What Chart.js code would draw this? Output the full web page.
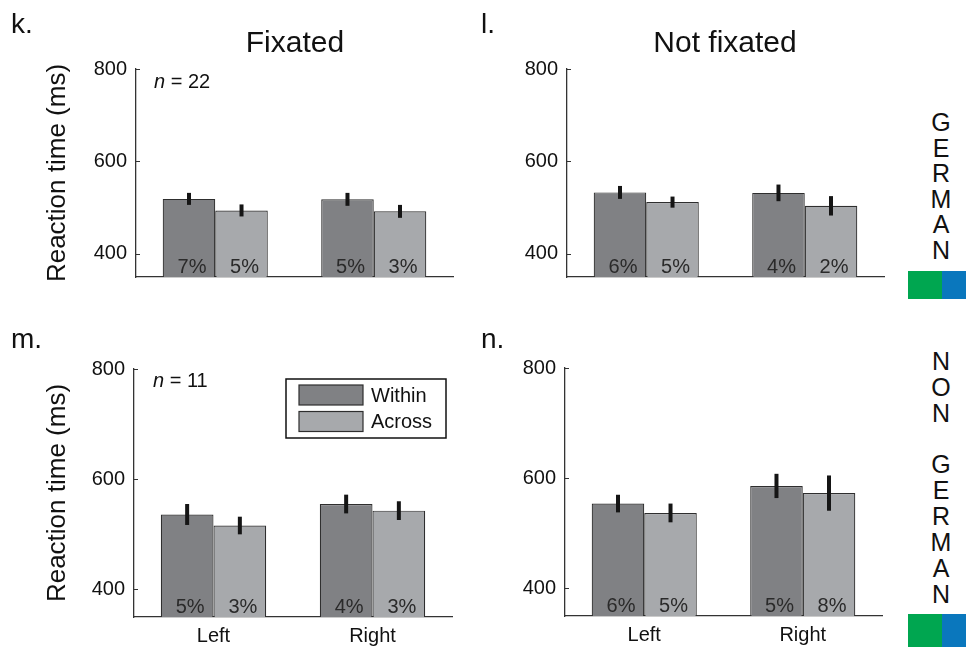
<!DOCTYPE html>
<html>
<head>
<meta charset="utf-8">
<script src="https://cdn.jsdelivr.net/npm/chart.js@4.4.1/dist/chart.umd.min.js"></script>
<style>
body { margin: 0; background: #fff; }
#wrap { position: relative; width: 966px; height: 647px; overflow: hidden; font-family: "Liberation Sans", Arial, sans-serif; color: #111; }
canvas { position: absolute; }
.t { position: absolute; white-space: nowrap; line-height: 1; }
.side { position: absolute; width: 40px; text-align: center; font-size: 25px; }
.sq { position: absolute; }
</style>
</head>
<body>
<div id="wrap">
  <canvas id="cK" width="480" height="300" style="left:0;top:0"></canvas>
  <canvas id="cL" width="420" height="300" style="left:480px;top:0"></canvas>
  <canvas id="cM" width="480" height="327" style="left:0;top:320px"></canvas>
  <canvas id="cN" width="420" height="327" style="left:480px;top:320px"></canvas>

  <div class="t" style="left:11px;top:10px;font-size:28px">k.</div>
  <div class="t" style="left:481px;top:10px;font-size:28px">l.</div>
  <div class="t" style="left:11px;top:325px;font-size:28px">m.</div>
  <div class="t" style="left:481px;top:325px;font-size:28px">n.</div>

  <div class="t" style="left:195px;width:200px;text-align:center;top:27px;font-size:30px">Fixated</div>
  <div class="t" style="left:625px;width:200px;text-align:center;top:27px;font-size:30px">Not fixated</div>

  <div class="t" style="left:154px;top:71px;font-size:20px"><i>n</i> = 22</div>
  <div class="t" style="left:153px;top:370px;font-size:20px"><i>n</i> = 11</div>

  <div class="side" style="left:921px;top:110px;line-height:25.6px">G<br>E<br>R<br>M<br>A<br>N</div>
  <div class="side" style="left:921px;top:349px;line-height:25.84px">N<br>O<br>N<br>&nbsp;<br>G<br>E<br>R<br>M<br>A<br>N</div>

  <div class="sq" style="left:908px;top:271px;width:34px;height:28px;background:#00a650"></div>
  <div class="sq" style="left:942px;top:271px;width:24px;height:28px;background:#0a77bd"></div>
  <div class="sq" style="left:908px;top:614px;width:34px;height:33px;background:#00a650"></div>
  <div class="sq" style="left:942px;top:614px;width:24px;height:33px;background:#0a77bd"></div>
</div>

<script>
var categories = ['Left', 'Right'];
var seriesNames = ['Within', 'Across'];
var yTicks = [400, 600, 800];

// k. German, fixated
var kWithin = [519, 518];
var kAcross = [494, 492];
var kWithinErr = [13, 14];
var kAcrossErr = [13, 14];
var kWithinPct = ['7%', '5%'];
var kAcrossPct = ['5%', '3%'];

// l. German, not fixated
var lWithin = [533, 532];
var lAcross = [512, 504];
var lWithinErr = [14, 18];
var lAcrossErr = [12, 21];
var lWithinPct = ['6%', '4%'];
var lAcrossPct = ['5%', '2%'];

// m. non German, fixated
var mWithin = [536, 555];
var mAcross = [516, 543];
var mWithinErr = [19, 17];
var mAcrossErr = [16, 17];
var mWithinPct = ['5%', '4%'];
var mAcrossPct = ['3%', '3%'];

// n. non German, not fixated
var nWithin = [554, 586];
var nAcross = [537, 573];
var nWithinErr = [16, 22];
var nAcrossErr = [17, 32];
var nWithinPct = ['6%', '5%'];
var nAcrossPct = ['5%', '8%'];

var withinColor = '#808184';
var acrossColor = '#a7a9ac';
var edgeColor = '#2e2e2e';
var fontFam = '"Liberation Sans", Arial, sans-serif';

// error bars, percentages, inner tick marks and the legend
var extras = {
    id: 'extras',
    afterDatasetsDraw: function (chart) {
        var ctx = chart.ctx;
        var y = chart.scales.y;
        var a = chart.chartArea;
        ctx.save();
        chart.data.datasets.forEach(function (ds, i) {
            var meta = chart.getDatasetMeta(i);
            meta.data.forEach(function (bar, j) {
                var v = ds.data[j];
                var e = ds.errors[j];
                ctx.strokeStyle = '#151515';
                ctx.lineWidth = 4;
                ctx.lineCap = 'butt';
                ctx.beginPath();
                ctx.moveTo(bar.x, y.getPixelForValue(v + e));
                ctx.lineTo(bar.x, y.getPixelForValue(v - e));
                ctx.stroke();

                ctx.fillStyle = '#2a2a2a';
                ctx.font = '20px ' + fontFam;
                ctx.textAlign = 'center';
                ctx.textBaseline = 'alphabetic';
                ctx.fillText(ds.pct[j], bar.x + 3, a.bottom - 4);
            });
        });
        // small inward ticks
        ctx.strokeStyle = '#333';
        ctx.lineWidth = 1;
        yTicks.forEach(function (t) {
            var py = Math.round(y.getPixelForValue(t)) + 0.5;
            ctx.beginPath();
            ctx.moveTo(a.left, py);
            ctx.lineTo(a.left + 4, py);
            ctx.stroke();
        });
        ctx.restore();
    },
    afterDraw: function (chart) {
        if (!chart.options.plugins.extras || !chart.options.plugins.extras.legend) return;
        var ctx = chart.ctx;
        var a = chart.chartArea;
        var bx = a.left + 152, by = a.top + 10;
        ctx.save();
        ctx.strokeStyle = '#111';
        ctx.lineWidth = 1.5;
        ctx.fillStyle = '#fff';
        ctx.fillRect(bx, by, 160, 59);
        ctx.strokeRect(bx, by, 160, 59);
        chart.data.datasets.forEach(function (ds, i) {
            var sy = by + 6 + i * 26.5;
            ctx.fillStyle = ds.backgroundColor;
            ctx.fillRect(bx + 13, sy, 64, 20);
            ctx.strokeStyle = edgeColor;
            ctx.lineWidth = 1.2;
            ctx.strokeRect(bx + 13, sy, 64, 20);
            ctx.fillStyle = '#111';
            ctx.font = '20px ' + fontFam;
            ctx.textAlign = 'left';
            ctx.textBaseline = 'middle';
            ctx.fillText(ds.label, bx + 85, sy + 11);
        });
        ctx.restore();
    }
};

function makePanel(id, g, within, across, wErr, aErr, wPct, aPct) {
    return new Chart(document.getElementById(id), {
        type: 'bar',
        data: {
            labels: categories,
            datasets: [
                { label: seriesNames[0], data: within, errors: wErr, pct: wPct,
                  backgroundColor: withinColor, borderColor: edgeColor, borderWidth: 1.2 },
                { label: seriesNames[1], data: across, errors: aErr, pct: aPct,
                  backgroundColor: acrossColor, borderColor: edgeColor, borderWidth: 1.2 }
            ]
        },
        options: {
            responsive: false,
            animation: false,
            layout: { padding: { left: 0, top: g.top, right: g.right, bottom: g.bottom } },
            datasets: { bar: { categoryPercentage: 0.663, barPercentage: 1 } },
            plugins: {
                legend: { display: false },
                tooltip: { enabled: false },
                extras: { legend: g.legend }
            },
            scales: {
                x: {
                    grid: { display: false, drawTicks: false },
                    border: { color: '#333', width: 1.3 },
                    ticks: { display: g.xLabels, color: '#111', padding: 7, font: { size: 20, family: fontFam } },
                    afterFit: function (s) { s.height = g.xH; }
                },
                y: {
                    min: 350,
                    max: 800,
                    afterBuildTicks: function (s) { s.ticks = yTicks.map(function (v) { return { value: v }; }); },
                    grid: { display: false, drawTicks: false },
                    border: { color: '#333', width: 1.3 },
                    ticks: { color: '#111', padding: 9, font: { size: 20, family: fontFam } },
                    title: {
                        display: g.yTitle,
                        text: 'Reaction time (ms)',
                        color: '#111',
                        font: { size: 26, family: fontFam },
                        padding: { top: g.titlePad, bottom: 0 }
                    },
                    afterFit: function (s) { s.width = g.yW; }
                }
            }
        },
        plugins: [extras]
    });
}

makePanel('cK', { top: 69, right: 27, bottom: 23, yW: 136, xH: 0, xLabels: false, yTitle: true, titlePad: 42.4, legend: false },
    kWithin, kAcross, kWithinErr, kAcrossErr, kWithinPct, kAcrossPct);
makePanel('cL', { top: 69, right: 16, bottom: 23, yW: 87, xH: 0, xLabels: false, yTitle: false, titlePad: 0, legend: false },
    lWithin, lAcross, lWithinErr, lAcrossErr, lWithinPct, lAcrossPct);
makePanel('cM', { top: 49, right: 28, bottom: 0, yW: 134, xH: 30, xLabels: true, yTitle: true, titlePad: 42, legend: true },
    mWithin, mAcross, mWithinErr, mAcrossErr, mWithinPct, mAcrossPct);
makePanel('cN', { top: 48, right: 18, bottom: 0, yW: 85, xH: 31, xLabels: true, yTitle: false, titlePad: 0, legend: false },
    nWithin, nAcross, nWithinErr, nAcrossErr, nWithinPct, nAcrossPct);
</script>
</body>
</html>
